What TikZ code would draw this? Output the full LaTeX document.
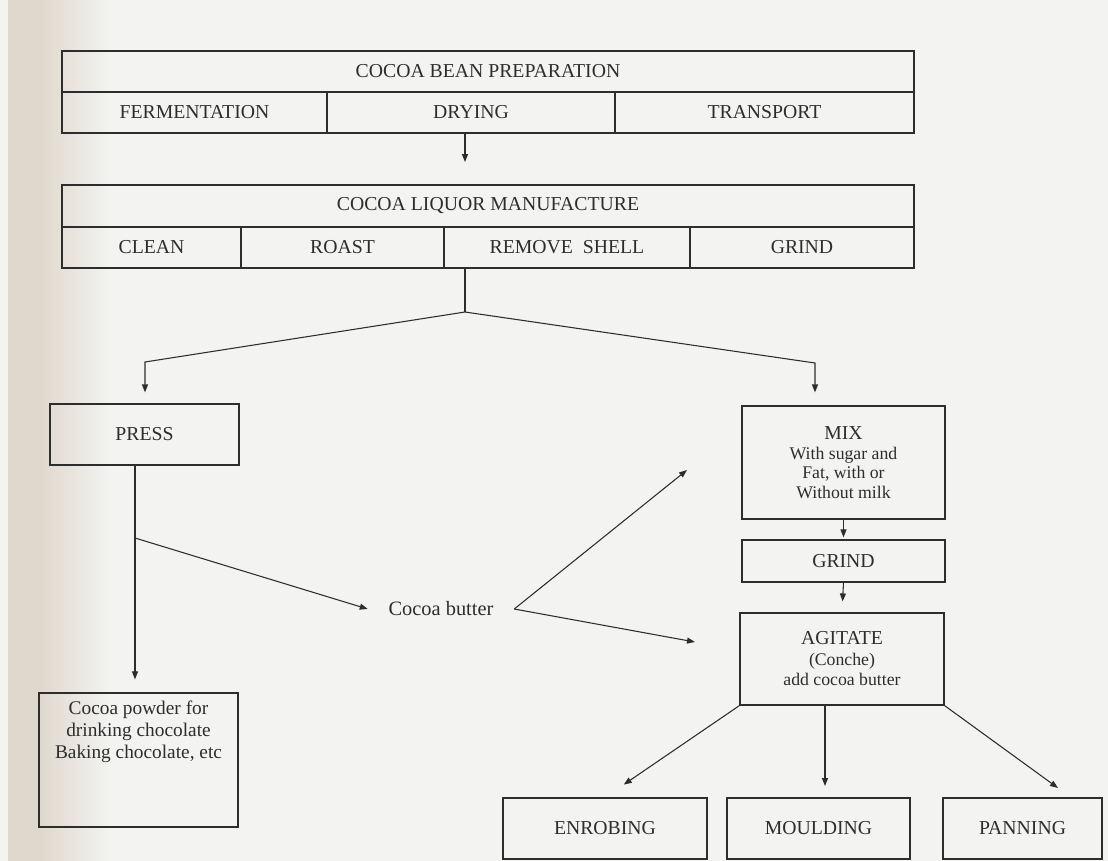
\documentclass[tikz,border=0pt]{standalone}
\usepackage{fontspec}
\setmainfont{Liberation Serif}
\usetikzlibrary{arrows.meta}
\definecolor{bg}{RGB}{243,243,241}
\definecolor{ink}{RGB}{45,45,45}
\definecolor{gutter}{RGB}{224,216,205}
\begin{document}
\begin{tikzpicture}[x=0.75pt,y=-0.75pt,
  box/.style={draw=ink, line width=0.9pt, inner sep=0pt, text=ink},
  wh/.style 2 args={minimum width=#1*0.75pt, minimum height=#2*0.75pt},
  captxt/.style={font=\fontsize{14.8}{16}\selectfont},
  smalltxt/.style={font=\fontsize{13.3}{14.6}\selectfont, align=center},
  arr/.style={draw=ink, line width=0.8pt, -{Triangle[length=6pt,width=4.5pt]}},
  ln/.style={draw=ink, line width=0.8pt}]
% page background
\fill[bg] (0,0) rectangle (1108,861);
\fill[gutter] (8,0) rectangle (40,861);
\shade[left color=gutter, right color=bg] (40,0) rectangle (110,861);
\useasboundingbox (0,0) rectangle (1108,861);

% cocoa bean preparation
\node[box,captxt,wh={852}{41}] (bean) at (488,71.5) {COCOA BEAN PREPARATION};
\node[box,captxt,wh={265}{41}] (ferm) at (194.5,112.5) {FERMENTATION};
\node[box,captxt,wh={288}{41}] (dry) at (471,112.5) {DRYING};
\node[box,captxt,wh={299}{41}] (trans) at (764.5,112.5) {TRANSPORT};

% cocoa liquor manufacture
\node[box,captxt,wh={852}{42}] (liquor) at (488,206) {COCOA LIQUOR MANUFACTURE};
\node[box,captxt,wh={179}{41}] (clean) at (151.5,247.5) {CLEAN};
\node[box,captxt,wh={203}{41}] (roast) at (342.5,247.5) {ROAST};
\node[box,captxt,wh={246}{41}] (shell) at (567,247.5) {REMOVE\enspace SHELL};
\node[box,captxt,wh={224}{41}] (grindA) at (802,247.5) {GRIND};

\coordinate (t1) at (465,162);
\draw[arr] (t1 |- dry.south) -- (t1);

% split
\coordinate (j) at (465,312);
\coordinate (jl) at (145,362);
\coordinate (jr) at (815,363);
\draw[ln] (j |- shell.south) -- (j);

\node[box,captxt,wh={189}{61}] (press) at (144.5,434.5) {PRESS};
\draw[arr, shorten >=8.25pt] (j) -- (jl) -- (jl |- press.north);

\node[box,smalltxt,wh={203}{113}] (mix) at (843.5,462.5)
  {{\fontsize{14.8}{14.6}\selectfont MIX}\\With sugar and\\Fat, with or\\Without milk};
\draw[arr, shorten >=9.75pt] (j) -- (jr) -- (jr |- mix.north);

\node[box,captxt,wh={203}{42}] (grindB) at (843.5,561) {GRIND};
\draw[arr, shorten >=1.5pt] (mix.south) -- (grindB.north);

\node[box,font=\fontsize{13.3}{15.4}\selectfont,align=center,wh={204}{92}] (agit) at (842,659)
  {{\fontsize{14.8}{15.4}\selectfont AGITATE}\\(Conche)\\add cocoa butter};
\draw[arr, shorten >=8.25pt] (grindB.south) -- (agit.north);

% press products
\node[text=ink, font=\fontsize{15.3}{16}\selectfont, inner sep=0pt, minimum width=146*0.75pt] (butter) at (441,609) {Cocoa butter};
\coordinate (pv) at (135,465);
\coordinate (pb) at (135,538);
\node[box, wh={199}{134}] (powder) at (138.5,760)
  {\parbox[c][100.5pt][t]{149pt}{\centering\fontsize{14.5}{16.5}\selectfont\vspace*{6pt}Cocoa powder for\\drinking chocolate\\Baking chocolate, etc}};
\draw[ln] (pv |- press.south) -- (pb);
\draw[arr, shorten >=9.75pt] (pb) -- (pb |- powder.north);
\draw[arr] (pb) -- (butter.west);

\coordinate (mixtip) at (687,470);
\coordinate (agtip) at (695,642);
\draw[arr] (butter.east) -- (mixtip);
\draw[arr] (butter.east) -- (agtip);

% finishing
\node[box,captxt,wh={204}{61}] (enrob) at (605,828.5) {ENROBING};
\node[box,captxt,wh={183}{61}] (mould) at (818.5,828.5) {MOULDING};
\node[box,captxt,wh={159}{61}] (pan) at (1022.5,828.5) {PANNING};
\coordinate (mt) at (825,786);
\coordinate (ptip) at (1058,788);
\draw[arr, shorten >=17pt] (agit.south west) -- (enrob.north);
\draw[arr] (mt |- agit.south) -- (mt);
\draw[arr] (agit.south east) -- (ptip);
\end{tikzpicture}
\end{document}
